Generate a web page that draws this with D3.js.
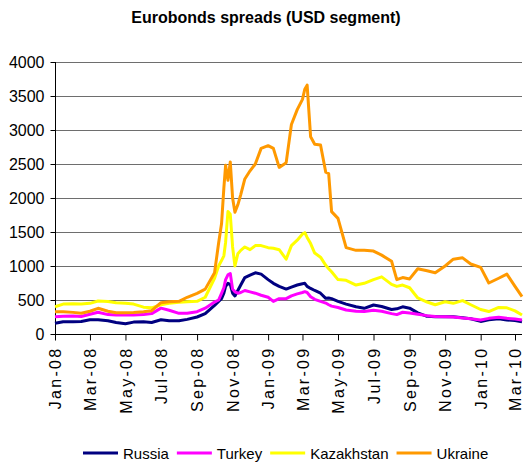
<!DOCTYPE html>
<html>
<head>
<meta charset="utf-8">
<script src="https://cdn.jsdelivr.net/npm/d3@7"></script>
<style>
  html, body { margin: 0; padding: 0; background: #fff; }
  svg { display: block; font-family: "Liberation Sans", Arial, sans-serif; }
</style>
</head>
<body>
<svg id="chart" width="524" height="462"></svg>
<script>
const title = "Eurobonds spreads (USD segment)";
const seriesNames = ["Russia", "Turkey", "Kazakhstan", "Ukraine"];
const seriesColors = ["#000080", "#FF00FF", "#FFFF00", "#FF9900"];
const yTicks = [0, 500, 1000, 1500, 2000, 2500, 3000, 3500, 4000];
const xTickLabels = ["Jan-08","Mar-08","May-08","Jul-08","Sep-08","Nov-08","Jan-09","Mar-09","May-09","Jul-09","Sep-09","Nov-09","Jan-10","Mar-10"];

const dates = [
  "2008-01-01","2008-01-15","2008-02-01","2008-02-15","2008-03-01","2008-03-15","2008-04-01","2008-04-15",
  "2008-05-01","2008-05-15","2008-06-01","2008-06-15","2008-07-01","2008-07-15","2008-08-01","2008-08-15",
  "2008-09-01","2008-09-15","2008-10-01","2008-10-08","2008-10-13","2008-10-17","2008-10-20","2008-10-24",
  "2008-10-28","2008-11-01","2008-11-05","2008-11-10","2008-11-15","2008-11-22","2008-12-01","2008-12-10",
  "2008-12-20","2009-01-01","2009-01-10","2009-01-20","2009-02-01","2009-02-10","2009-02-20","2009-03-01",
  "2009-03-05","2009-03-09","2009-03-15","2009-03-22","2009-04-01","2009-04-10","2009-04-15","2009-04-20",
  "2009-05-01","2009-05-15","2009-06-01","2009-06-15","2009-07-01","2009-07-15","2009-08-01","2009-08-10",
  "2009-08-20","2009-09-01","2009-09-15","2009-10-01","2009-10-15","2009-11-01","2009-11-15","2009-12-01",
  "2009-12-15","2010-01-01","2010-01-15","2010-02-01","2010-02-15","2010-03-01","2010-03-13"
];

const russia = [
  157,181,181,185,210,210,195,170,
  150,175,180,170,210,195,195,215,
  250,300,420,480,520,600,700,745,
  730,600,560,640,720,830,867,900,
  880,800,745,700,660,690,720,740,
  745,700,670,640,600,525,530,520,
  480,440,400,378,426,405,360,370,
  400,380,310,260,254,254,254,240,
  225,185,210,225,206,200,181
];
const turkey = [
  254,260,265,258,290,320,285,279,
  279,279,285,300,380,350,304,304,
  328,380,470,500,598,680,800,870,
  890,660,620,600,610,640,620,600,
  570,540,480,520,520,560,590,610,
  622,610,548,510,480,455,430,410,
  390,353,335,330,350,335,300,285,
  320,310,290,270,256,254,250,235,
  225,206,230,245,230,220,206
];
const kazakhstan = [
  401,440,445,440,451,485,478,460,
  451,440,395,385,430,451,465,475,
  480,540,820,1000,1080,1150,1350,1800,
  1760,1280,1000,1180,1230,1280,1240,1300,
  1300,1270,1260,1240,1100,1300,1380,1470,
  1490,1420,1330,1190,1130,1010,960,916,
  800,790,720,745,800,840,730,700,
  720,680,530,470,430,475,451,490,
  430,360,330,390,385,340,280
];
const ukraine = [
  328,328,318,304,335,378,335,313,
  313,315,328,343,460,475,480,540,
  598,660,900,1338,1620,2150,2480,2260,
  2530,2000,1790,1900,2050,2280,2400,2500,
  2730,2770,2730,2450,2520,3080,3300,3450,
  3600,3660,2900,2790,2780,2380,2360,1800,
  1700,1270,1230,1230,1220,1160,1070,800,
  830,810,960,930,900,1000,1100,1120,
  1030,980,750,820,880,700,550
];
const seriesValues = [russia, turkey, kazakhstan, ukraine];

const parse = d3.utcParse("%Y-%m-%d");
const svg = d3.select("#chart");

const mLeft = 55, mRight = 522, mTop = 62, mBottom = 334;
const x = d3.scaleUtc().domain([parse("2008-01-01"), parse("2010-03-13")]).range([mLeft, mRight]);
const y = d3.scaleLinear().domain([0, 4000]).range([mBottom, mTop]);

// title
svg.append("text")
  .attr("x", 266).attr("y", 23)
  .attr("text-anchor", "middle")
  .attr("font-size", 16).attr("font-weight", "bold")
  .attr("fill", "#000")
  .text(title);

// gridlines
svg.append("g").selectAll("line")
  .data(yTicks.filter(v => v > 0))
  .join("line")
  .attr("x1", mLeft).attr("x2", mRight)
  .attr("y1", d => Math.round(y(d)) + 0.5).attr("y2", d => Math.round(y(d)) + 0.5)
  .attr("stroke", "#6e6e6e").attr("stroke-width", 1);

// y axis
const yAxis = svg.append("g")
  .attr("transform", `translate(${mLeft + 0.5},0)`)
  .call(d3.axisLeft(y).tickValues(yTicks).tickSize(5).tickPadding(6).tickFormat(d3.format("d")));
yAxis.select(".domain").attr("stroke", "#000").attr("d", `M0,${mTop}V${mBottom}`);
yAxis.selectAll(".tick line").attr("stroke", "#000");
yAxis.selectAll(".tick text")
  .attr("font-size", 16).attr("font-family", "'Liberation Sans', Arial, sans-serif").attr("fill", "#000");

// x axis
const tickDates = xTickLabels.map(s => d3.utcParse("%b-%y")(s));
const xAxis = svg.append("g")
  .attr("transform", `translate(0,${mBottom + 0.5})`)
  .call(d3.axisBottom(x).tickValues(tickDates).tickSize(6).tickFormat((d, i) => xTickLabels[i]));
xAxis.select(".domain").attr("stroke", "#000").attr("d", `M${mLeft},0H${mRight}`);
xAxis.selectAll(".tick line").attr("stroke", "#000");
xAxis.selectAll(".tick text")
  .attr("font-size", 16).attr("font-family", "'Liberation Sans', Arial, sans-serif").attr("fill", "#000")
  .attr("letter-spacing", "2.3px")
  .attr("text-anchor", "end")
  .attr("transform", "rotate(-90)")
  .attr("x", -12).attr("y", 0).attr("dy", "0.35em");

// lines
const line = d3.line()
  .x((d, i) => x(parse(dates[i])))
  .y(d => y(d));
const plot = svg.append("g");
seriesValues.forEach((vals, k) => {
  plot.append("path")
    .datum(vals)
    .attr("d", line)
    .attr("fill", "none")
    .attr("stroke", seriesColors[k])
    .attr("stroke-width", 3)
    .attr("stroke-linejoin", "round");
});

// legend
const legend = svg.append("g");
let cursor = 83;
const ly = 453;
seriesNames.forEach((name, k) => {
  legend.append("line")
    .attr("x1", cursor).attr("x2", cursor + 35)
    .attr("y1", ly).attr("y2", ly)
    .attr("stroke", seriesColors[k]).attr("stroke-width", 3);
  const t = legend.append("text")
    .attr("x", cursor + 40).attr("y", ly + 5.5)
    .attr("font-size", 15).attr("fill", "#000")
    .text(name);
  cursor += 40 + t.node().getComputedTextLength() + 8;
});
</script>
</body>
</html>
